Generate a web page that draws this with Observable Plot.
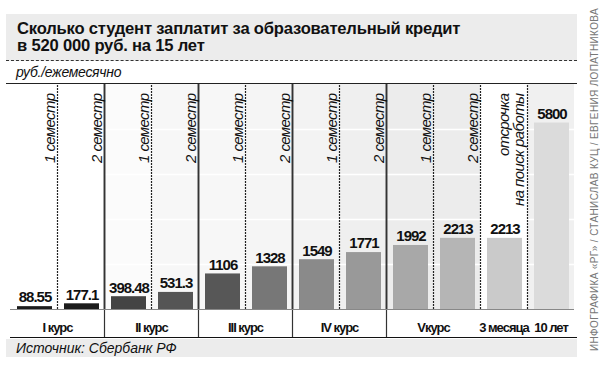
<!DOCTYPE html>
<html><head><meta charset="utf-8">
<script src="https://cdn.jsdelivr.net/npm/d3@7"></script>
<script src="https://cdn.jsdelivr.net/npm/@observablehq/plot@0.6"></script>
<style>
body{margin:0;background:#fff;}
#wrap{position:relative;width:600px;height:366px;font-family:"Liberation Sans",Arial,sans-serif;}
#titlebox{position:absolute;left:6px;top:14px;width:571px;height:46px;background:#ececec;border-bottom:1px dashed #333;}
.tl{position:absolute;left:11px;font-weight:bold;font-size:16.6px;line-height:16px;color:#111;letter-spacing:-0.2px;white-space:nowrap;}
#sub{position:absolute;left:16px;top:64px;font-style:italic;font-size:14px;color:#111;letter-spacing:-0.3px;}
#subline{position:absolute;left:6px;top:83px;width:571px;border-top:1px solid #222;}
#chart{position:absolute;left:0;top:84px;}
#botline{position:absolute;left:10px;top:337px;width:567px;border-top:1.5px solid #111;}
#source{position:absolute;left:6px;top:339px;width:571px;height:18px;background:#ececec;}
#source span{position:absolute;left:10px;top:1px;font-style:italic;font-size:14px;color:#111;}
#credit{position:absolute;left:589px;top:351px;transform-origin:0 0;transform:rotate(-90deg);font-size:10px;color:#777;white-space:nowrap;letter-spacing:0.35px;}
</style></head>
<body>
<div id="wrap">
  <div id="titlebox">
    <div class="tl" style="top:7px">Сколько студент заплатит за образовательный кредит</div>
    <div class="tl" style="top:24px">в 520 000 руб. на 15 лет</div>
  </div>
  <div id="sub">руб./ежемесячно</div>
  <div id="subline"></div>
  <div id="chart"></div>
  <div id="botline"></div>
  <div id="source"><span>Источник: Сбербанк РФ</span></div>
  <div id="credit">ИНФОГРАФИКА «РГ» / СТАНИСЛАВ КУЦ / ЕВГЕНИЯ ЛОПАТНИКОВА</div>
</div>
<script>
// Data
const periods = ["1 семестр","2 семестр","1 семестр","2 семестр","1 семестр","2 семестр","1 семестр","2 семестр","1 семестр","2 семестр","отсрочка\nна поиск работы",""];
const values = [88.55, 177.1, 398.48, 531.3, 1106, 1328, 1549, 1771, 1992, 2213, 2213, 5800];
const valueLabels = ["88.55","177.1","398.48","531.3","1106","1328","1549","1771","1992","2213","2213","5800"];
const barColors = ["#1c1c1c","#1c1c1c","#444444","#555555","#575757","#777777","#8a8a8a","#999999","#a8a8a8","#b5b5b5","#cacaca","#dbdbdb"];
const colBg = ["#ffffff","#ffffff","#fbfbfb","#f7f7f7","#f7f7f7","#f5f5f5","#f3f3f3","#efefef","#ececec","#ececec","#ffffff","#f0f0f0"];
const groups = ["I курс","II курс","III курс","IV курс","Vкурс","3 месяца","10 лет"];
const groupStart = [0, 2, 4, 6, 8, 10, 11];
const groupEnd = [2, 4, 6, 8, 10, 11, 12];
const gridValues = [1400, 2800, 4200, 5600];
const yTop = 7000;

const cols = values.map((v, i) => ({i, v, label: valueLabels[i], period: periods[i], color: barColors[i], bg: colBg[i]}));
const oneLine = cols.filter(d => d.period && !d.period.includes("\n"));
const twoLine = cols.filter(d => d.period.includes("\n"));
const grp = groups.map((g, k) => ({g, mid: (groupStart[k] + groupEnd[k]) / 2}));
const innerLines = d3.range(1, 12).filter(i => ![2,4,6,8].includes(i));
const groupLines = [2, 4, 6, 8];

const font = '"Liberation Sans",Arial,sans-serif';

const plot = Plot.plot({
  width: 600, height: 253,
  marginTop: 0, marginBottom: 0, marginLeft: 0, marginRight: 0,
  x: {type: "linear", domain: [0, 12], range: [10, 574], axis: null},
  y: {domain: [0, yTop], range: [225, 0], axis: null},
  style: {background: "transparent"},
  marks: [
    Plot.rectY(cols, {x1: d => d.i, x2: d => d.i + 1, y1: 0, y2: yTop, fill: d => d.bg}),
    Plot.ruleY(gridValues, {x1: 0, x2: 12, stroke: "#ffffff", strokeWidth: 1.5}),
    Plot.ruleX(innerLines, {y1: 0, y2: yTop, stroke: "#222", strokeWidth: 1.2, strokeDasharray: "2,1"}),
    Plot.ruleX(groupLines, {y1: 0, y2: yTop, stroke: "#333", strokeWidth: 1.8}),
    Plot.ruleX(groupLines, {stroke: "#333", strokeWidth: 1.2}),
    Plot.rectY(cols, {x1: d => d.i, x2: d => d.i + 1, y1: 0, y2: d => d.v, fill: d => d.color, insetLeft: 7, insetRight: 5}),
    Plot.ruleY([0], {x1: 0, x2: 12, stroke: "#888", strokeWidth: 1}),
    Plot.text(cols, {x: d => d.i + 0.5, y: d => d.v, text: d => d.label, dy: -9, dx: 1, fontFamily: font, fontWeight: "bold", fontSize: 15, fill: "#111"}),
    Plot.text(oneLine, {x: d => d.i + 1, text: d => d.period, frameAnchor: "top", dx: -13, dy: 9, rotate: -90, textAnchor: "end", fontFamily: font, fontStyle: "italic", fontSize: 15, fill: "#111"}),
    Plot.text(twoLine, {x: d => d.i + 1, text: d => d.period, frameAnchor: "top", dx: -29, dy: 9, rotate: -90, textAnchor: "end", fontFamily: font, fontStyle: "italic", fontSize: 15, lineHeight: 1, fill: "#111"}),
    Plot.text(grp, {x: "mid", text: "g", frameAnchor: "bottom", dy: -6, fontFamily: font, fontWeight: "bold", fontSize: 13, fill: "#111"})
  ]
});
const textGroups = plot.querySelectorAll('g[aria-label="text"]');
const spacings = ["-1px", "-0.6px", "-0.6px", "-1px"];
textGroups.forEach((g, k) => g.style.letterSpacing = spacings[k] || "0");
document.getElementById("chart").appendChild(plot);
</script>
</body></html>
